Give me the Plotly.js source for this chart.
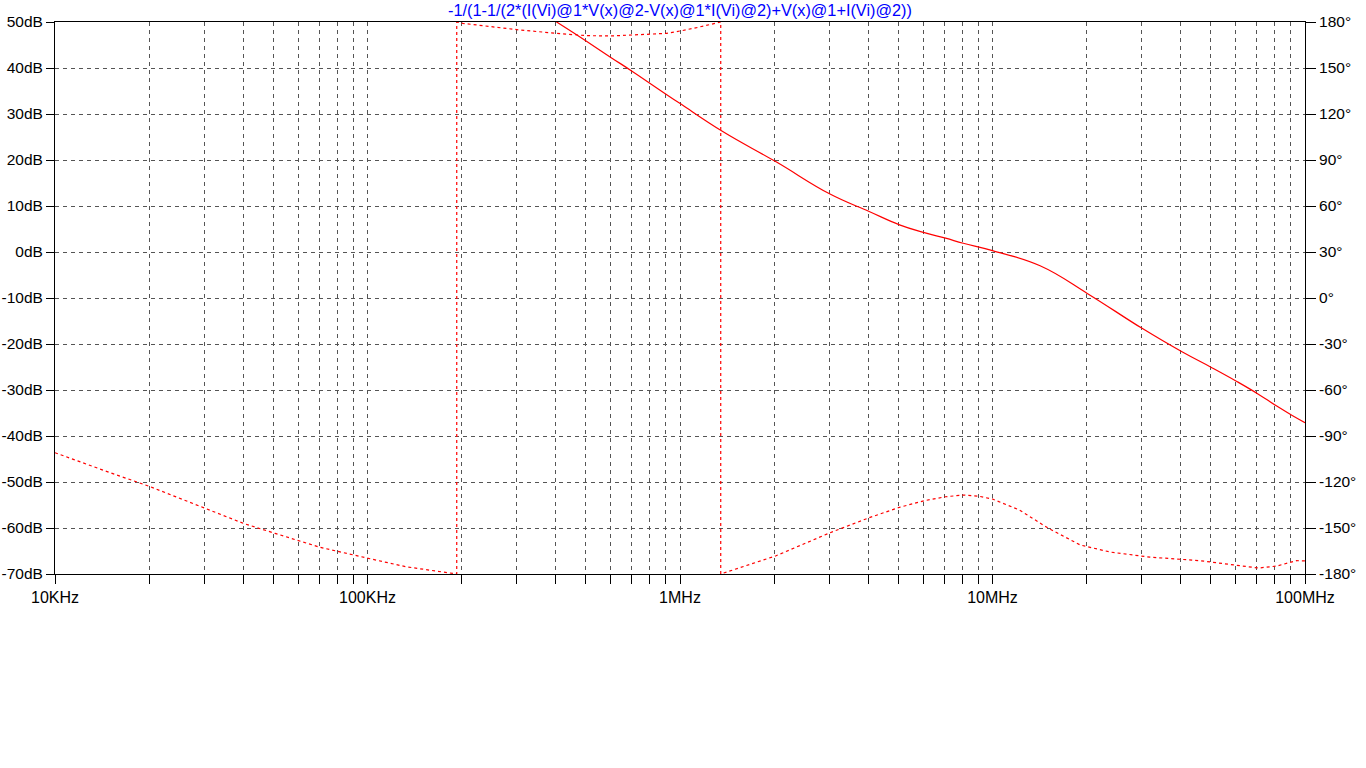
<!DOCTYPE html>
<html>
<head>
<meta charset="utf-8">
<script src="https://cdn.plot.ly/plotly-3.0.1.min.js"></script>
<style>html,body{margin:0;padding:0;background:#fff;}#chart{width:1366px;height:768px;}</style>
</head>
<body>
<div id="chart"></div>
<script>
// Magnitude (dB) vs frequency (Hz)
const magFreq = [200e3, 300e3, 403e3, 502e3, 604e3, 706e3, 907e3, 1.01e6, 1.37e6, 2.03e6, 3.02e6, 4.03e6, 5.04e6, 6.05e6, 7.08e6, 8.06e6, 10.0e6, 14.2e6, 20.1e6, 30.1e6, 40.4e6, 50.5e6, 60.7e6, 70.9e6, 81.2e6, 91.3e6, 100e6];
const magDB   = [62, 55.5, 50, 45.8, 42.2, 39.2, 34.2, 32.1, 26.2, 19.6, 12.6, 8.8, 5.9, 4.2, 3.0, 1.9, 0.3, -3.0, -9.0, -16.6, -21.7, -25.2, -28.2, -30.9, -33.5, -35.6, -37.1];

// Phase (degrees) vs frequency (Hz), wraps at ±180°
const phFreq = [10e3, 12e3, 15e3, 19.9e3, 30.2e3, 40.1e3, 50.6e3, 70.5e3, 100.6e3, 133e3, 193e3, 193e3, 202e3, 307e3, 403e3, 502e3, 604e3, 906e3, 1.01e6, 1.13e6, 1.35e6, 1.35e6, 2.03e6, 3.02e6, 4.03e6, 5.04e6, 6.05e6, 7.08e6, 8.06e6, 9.0e6, 10.0e6, 12.2e6, 15.1e6, 19.1e6, 23.8e6, 31.9e6, 46.1e6, 60.4e6, 71e6, 81.2e6, 94e6, 100e6];
const phDeg  = [-100.9, -106.8, -113.9, -122.6, -137.2, -147.0, -153.5, -162.6, -169.8, -175.3, -180, 180, 179.1, 174.8, 172.6, 171.1, 170.9, 172.6, 174.3, 176.3, 180, -180, -168.1, -153.1, -143.3, -136.5, -132.2, -129.6, -128.5, -129.2, -131.1, -138.3, -150.2, -161.1, -165.7, -169.0, -171.3, -174.2, -176.1, -174.8, -171.3, -171.5];

const titleText = "-1/(1-1/(2*(I(Vi)@1*V(x)@2-V(x)@1*I(Vi)@2)+V(x)@1+I(Vi)@2))";

const dbTicks = [50, 40, 30, 20, 10, 0, -10, -20, -30, -40, -50, -60, -70];
const dbTickText = dbTicks.map(v => String(v) + "dB");
const degTicks = [180, 150, 120, 90, 60, 30, 0, -30, -60, -90, -120, -150, -180];
const degTickText = degTicks.map(v => String(v) + "\u00B0");

const decadeVals = [1e4, 1e5, 1e6, 1e7, 1e8];
const decadeText = ["10KHz", "100KHz", "1MHz", "10MHz", "100MHz"];

// build log tick positions (1..9 per decade)
const xTickVals = [], xTickText = [];
for (let d = 0; d < 4; d++) {
  for (let m = 1; m <= 9; m++) {
    const v = decadeVals[d] * m;
    xTickVals.push(v);
    xTickText.push(m === 1 ? decadeText[d] : "");
  }
}
xTickVals.push(decadeVals[4]); xTickText.push(decadeText[4]);

const traces = [
  {
    x: magFreq, y: magDB, type: 'scatter', mode: 'lines',
    line: {color: '#ff0000', width: 1.2, shape: 'spline', smoothing: 1.2}, yaxis: 'y', hoverinfo: 'skip'
  },
  {
    x: phFreq, y: phDeg, type: 'scatter', mode: 'lines',
    line: {color: '#ff0000', width: 1.2, dash: '3px,3px'}, yaxis: 'y2', hoverinfo: 'skip'
  }
];

const fam = 'Liberation Sans, Arial, sans-serif';
const xFont = {family: fam, size: 16, color: '#000'};
const yFont = {family: fam, size: 15.5, color: '#000'};

const layout = {
  width: 1366, height: 768,
  margin: {l: 55, r: 61, t: 22, b: 194, pad: 0},
  paper_bgcolor: '#fff', plot_bgcolor: '#fff',
  showlegend: false,
  title: {
    text: titleText,
    font: {family: fam, size: 16.3, color: '#0000ff'},
    xref: 'paper', x: 0.5, xanchor: 'center', y: 0.987, yanchor: 'middle'
  },
  xaxis: {
    type: 'log', range: [4, 8],
    tickmode: 'array', tickvals: xTickVals, ticktext: xTickText,
    ticks: 'outside', ticklen: 9, tickcolor: '#000', tickwidth: 1,
    showline: true, linecolor: '#000', linewidth: 1, mirror: true,
    showgrid: true, gridcolor: '#555', griddash: '4px,4px', gridwidth: 1,
    zeroline: false, tickfont: xFont
  },
  yaxis: {
    range: [-70, 50],
    tickmode: 'array', tickvals: dbTicks, ticktext: dbTickText,
    ticks: 'outside', ticklen: 8, tickcolor: '#000', tickwidth: 1,
    showline: true, linecolor: '#000', linewidth: 1,
    showgrid: true, gridcolor: '#555', griddash: '4px,4px', gridwidth: 1,
    zeroline: false, tickfont: yFont
  },
  yaxis2: {
    range: [-180, 180], overlaying: 'y', side: 'right',
    tickmode: 'array', tickvals: degTicks, ticktext: degTickText,
    ticks: 'outside', ticklen: 10, tickcolor: '#000', tickwidth: 1,
    showline: true, linecolor: '#000', linewidth: 1,
    showgrid: false, zeroline: false, tickfont: yFont
  }
};

Plotly.newPlot('chart', traces, layout, {displayModeBar: false, staticPlot: true});
</script>
</body>
</html>
